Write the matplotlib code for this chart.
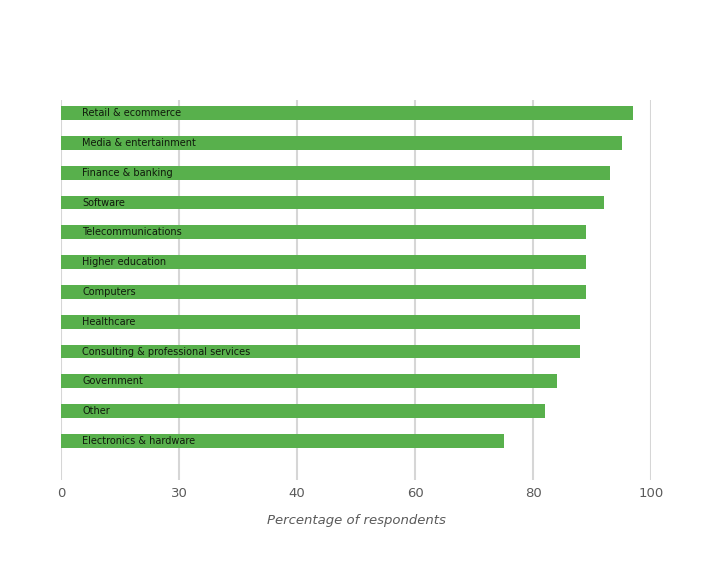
import matplotlib.pyplot as plt
import numpy as np

industries = ['Retail & ecommerce', 'Media & entertainment', 'Finance & banking',
              'Software', 'Telecommunications', 'Higher education', 'Computers',
              'Healthcare', 'Consulting & professional services', 'Government',
              'Other', 'Electronics & hardware']
values = [97, 95, 93, 92, 89, 89, 89, 88, 88, 84, 82, 75]
tick_pos = [0, 20, 40, 60, 80, 100]
tick_labels = ['0', '30', '40', '60', '80', '100']

fig = plt.figure(figsize=(7.2, 5.8), dpi=100)
ax = fig.add_axes([61/720, 1 - 480/580, 590/720, 380/580])

y = np.arange(len(industries))
ax.barh(y, values, height=0.46, color='#58b04c', zorder=2)

for i, name in enumerate(industries):
    ax.text(3.6, i, name, va='center', ha='left', fontsize=7,
            family=['Liberation Sans Narrow', 'DejaVu Sans'], color='#101a0c',
            zorder=3)

ax.set_xlim(0, 100)
ax.set_ylim(len(industries) - 1 + 1.31, -0.44)
ax.set_xticks(tick_pos)
ax.set_xticklabels(tick_labels, color='#5a5a5a', fontsize=9.5)
ax.set_yticks([])
ax.tick_params(axis='x', length=0, pad=5)
for x in tick_pos:
    ax.axvline(x, color='#d6d6d6', lw=1.5, zorder=1)
for s in ax.spines.values():
    s.set_visible(False)

ax.set_xlabel('Percentage of respondents', style='italic', color='#5a5a5a',
              fontsize=9.5, labelpad=10)

fig.savefig('out.png', dpi=100)
